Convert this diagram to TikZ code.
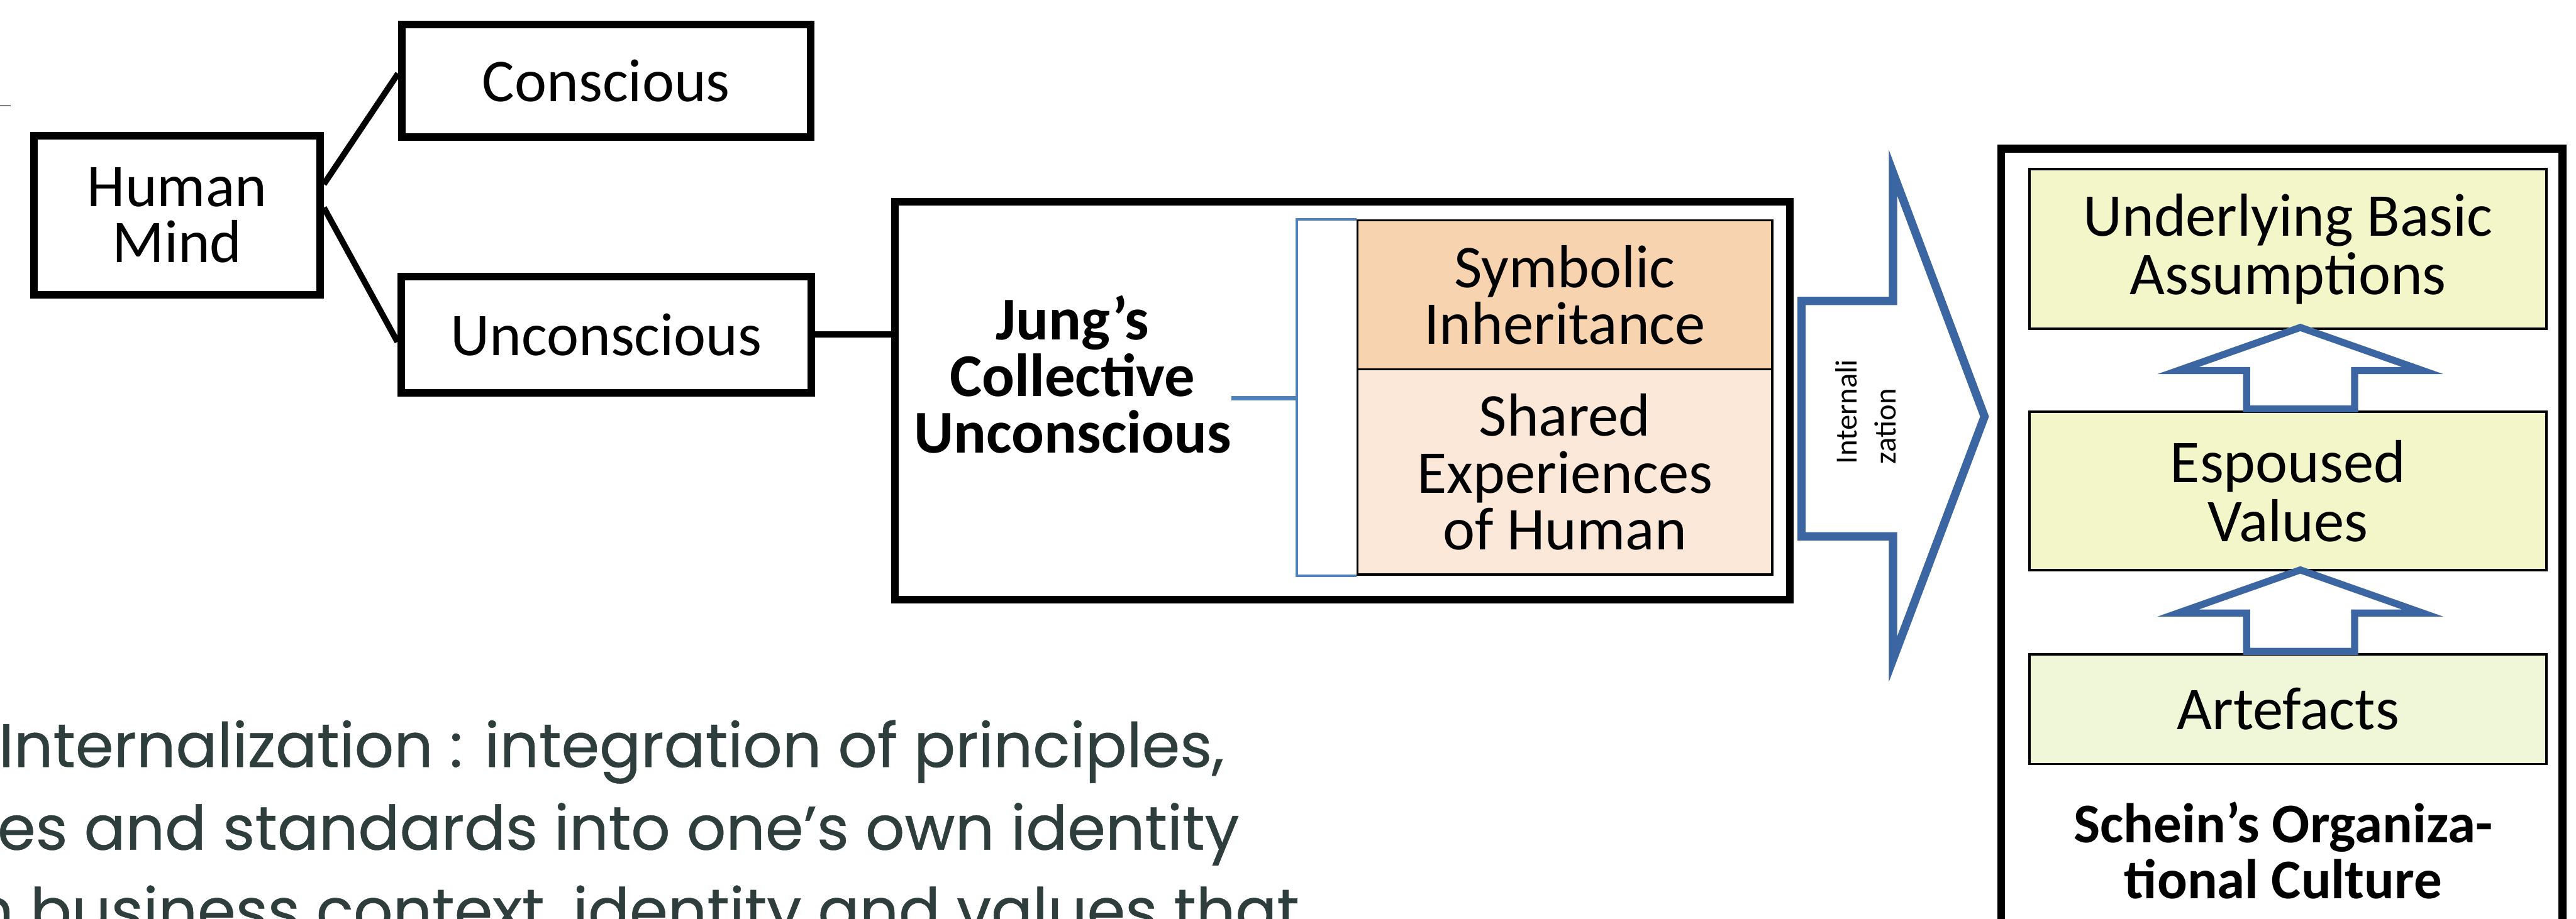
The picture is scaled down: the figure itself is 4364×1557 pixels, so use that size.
\documentclass[tikz,border=0pt]{standalone}
\usepackage{fontspec}
\setmainfont{Carlito}
\newfontfamily\notefont[FakeBold=0.5]{Poppins}

\definecolor{arrowblue}{HTML}{3C66A2}
\definecolor{bracketblue}{HTML}{4F81BD}
\definecolor{peach}{HTML}{F8D3B0}
\definecolor{peachlight}{HTML}{FCE8D8}
\definecolor{layeryellow}{HTML}{F3F6C8}
\definecolor{layergreen}{HTML}{F0F7D8}
\definecolor{notegray}{HTML}{2D3E3C}

\begin{document}
\begin{tikzpicture}[x=0.01cm,y=-0.01cm,
  mindbox/.style={draw, line width=3.7pt, inner sep=0pt, align=center,
    font=\fontsize{29.3}{27}\selectfont},
  archbox/.style={draw, line width=1.1pt, inner sep=0pt, align=center,
    minimum width=7.02cm, font=\fontsize{29.3}{27.3}\selectfont},
  layerbox/.style={draw, line width=1.1pt, inner sep=0pt, align=center,
    minimum width=8.75cm, font=\fontsize{29.3}{28.4}\selectfont},
  titletext/.style={inner sep=0pt, align=center, font=\bfseries\fontsize{29.3}{27.3}\selectfont},
  link/.style={line width=2.9pt},
  bracketline/.style={bracketblue, line width=1.2pt},
  bigarrow/.style={arrowblue, line width=4pt, line join=miter},
  uparrow/.style={arrowblue, line width=3.4pt, line join=miter},
  notetext/.style={anchor=base west, inner sep=0pt, text=notegray,
    font=\notefont\fontsize{29.6}{34}\selectfont}]
\useasboundingbox (0,0) rectangle (4364,1557);
\clip (0,0) rectangle (4364,1557);
\fill[white] (0,0) rectangle (4364,1557);
\draw[gray, line width=0.6pt] (0,179) -- (18,179);

% human mind
\node[mindbox, minimum width=4.84cm, minimum height=2.69cm] (human) at (300,365) {Human\\Mind};
\node[mindbox, minimum width=6.92cm, minimum height=1.91cm] (conscious) at (1027,137) {Conscious};
\node[mindbox, minimum width=6.94cm, minimum height=1.97cm] (unconscious) at (1027,567) {Unconscious};
\draw[link] (human.12) -- (conscious.178);
\draw[link] (human.3) -- (unconscious.182);

% collective unconscious
\node[mindbox, minimum width=15.15cm, minimum height=6.74cm] (jung) at (2274,679) {};
\draw[link] (unconscious.east) -- (unconscious.east -| jung.west);
\node[titletext] (jungtxt) at (1817,635) {Jung’s\\Collective\\Unconscious};
\node[archbox, fill=peach, minimum height=2.53cm] (symbolic) at (2651,500) {Symbolic\\Inheritance};
\node[archbox, fill=peachlight, minimum height=3.48cm] (shared) at (2651,800) {Shared\\Experiences\\of Human};
\coordinate (brk) at (2197,675);
\draw[bracketline] (symbolic.north west) -- (symbolic.north west -| brk) -- (shared.south west -| brk) -- (shared.south west);
\draw[bracketline, line width=2pt] (brk) -- (brk -| jungtxt.east);

% internalization
\draw[bigarrow] (3052,510) -- (3207,510) -- (3207,293) -- (3362,706) -- (3207,1117) -- (3207,909) -- (3052,909) -- cycle;
\node[rotate=90, anchor=west, align=left, inner sep=0pt, font=\fontsize{14.8}{18.8}\selectfont] (intern) at (3161,787) {Internali\\zation};

% schein
\draw[line width=3.7pt] (3390,252) rectangle (4341,1700);
\node[layerbox, fill=layeryellow, minimum height=2.70cm] (underlying) at (3876,422) {Underlying Basic\\Assumptions};
\node[layerbox, fill=layeryellow, minimum height=2.68cm] (espoused) at (3876,832) {Espoused\\Values};
\node[layerbox, fill=layergreen, minimum height=1.86cm] (artefacts) at (3876,1202) {Artefacts};
\draw[uparrow] (3897,555) -- (4104,628) -- (3989,628) -- (3989,693) -- (3806,693) -- (3806,628) -- (3690,628) -- cycle;
\draw[uparrow] (3897,966) -- (4104,1039) -- (3989,1039) -- (3989,1104) -- (3806,1104) -- (3806,1039) -- (3690,1039) -- cycle;
\node[titletext, font=\bfseries\fontsize{27}{27}\selectfont] (schein) at (3868,1441) {Schein’s Organiza-\\tional Culture};

% note
\node[notetext] (note1) at (-3,1300) {Internalization : integration of principles,};
\node[notetext] (note2) at (-5,1440) {es and standards into one’s own identity};
\node[notetext] (note3) at (-44,1580) {n business context, identity and values that};
\end{tikzpicture}
\end{document}
